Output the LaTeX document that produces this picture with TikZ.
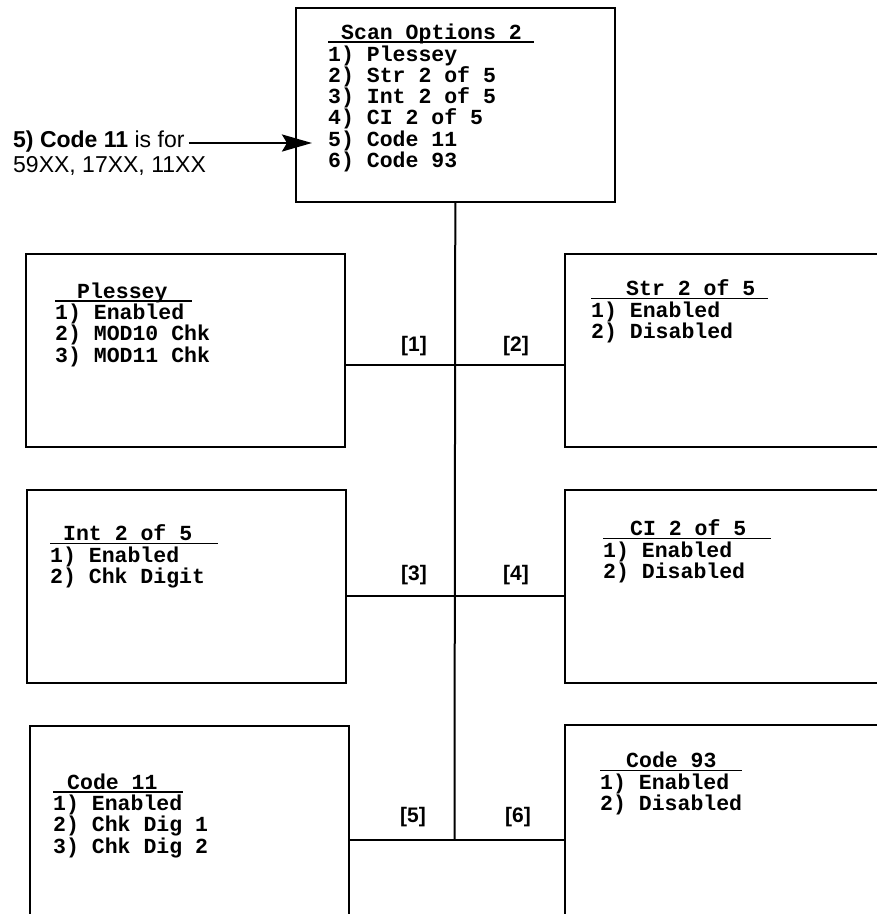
\documentclass[tikz,border=0pt]{standalone}
\usepackage{fontspec}
\setmainfont{Liberation Sans}
\newfontfamily\scanfont{Liberation Mono}
\usepackage{tikz}
\usetikzlibrary{positioning,arrows.meta,calc}
\newcommand{\boxtitle}[3]{\rlap{\rule[-3.5pt]{#1pt}{1.8pt}}\hspace*{#2pt}#3}

\begin{document}
\begin{tikzpicture}[x=1pt,y=-1pt,
    menubox/.style={draw,line width=1.6pt,minimum width=319pt,minimum height=193pt,anchor=north west,inner sep=0pt},
    menutext/.style={anchor=base west,align=left,inner sep=0pt,font=\scanfont\bfseries\fontsize{21.5}{21.3}\selectfont},
    tag/.style={font=\bfseries\fontsize{21}{21}\selectfont},
    note/.style={anchor=base west,inner sep=0pt,font=\fontsize{23}{25}\selectfont},
    link/.style={line width=2.6pt},
    trunk/.style={line width=2pt}]
  \useasboundingbox (0,0) rectangle (877,914);
  \clip (0,0) rectangle (877,914);
  \node[menubox,minimum height=194pt] (scan) at (295,7) {};
  \node[menubox] (plessey) at (25,253) {};
  \node[menubox] (str) at (564,253) {};
  \node[menubox] (int) at (26,489) {};
  \node[menubox] (ci) at (564,489) {};
  \node[menubox] (code11) at (29,725) {};
  \node[menubox] (code93) at (564,724) {};
  % lists are placed by the baseline of their last line
  \node[menutext] (scanlist) at (328,167.5) {\boxtitle{206}{13}{Scan Options 2}\\1) Plessey\\2) Str 2 of 5\\3) Int 2 of 5\\4) CI 2 of 5\\5) Code 11\\6) Code 93};
  \node[menutext] (plesseylist) at (55,362) {\boxtitle{137}{22}{Plessey}\\1) Enabled\\2) MOD10 Chk\\3) MOD11 Chk};
  \node[menutext] (strlist) at (591,338.5) {\boxtitle{177}{35}{Str 2 of 5}\\1) Enabled\\2) Disabled};
  \node[menutext] (intlist) at (50,583.5) {\boxtitle{168}{13}{Int 2 of 5}\\1) Enabled\\2) Chk Digit};
  \node[menutext] (cilist) at (603,578.5) {\boxtitle{168}{27}{CI 2 of 5}\\1) Enabled\\2) Disabled};
  \node[menutext] (code11list) at (53,853) {\boxtitle{130}{14}{Code 11}\\1) Enabled\\2) Chk Dig 1\\3) Chk Dig 2};
  \node[menutext] (code93list) at (600,810.5) {\boxtitle{142}{26}{Code 93}\\1) Enabled\\2) Disabled};
  \coordinate (j1) at (454.5,365);
  \coordinate (j2) at (454.5,596);
  \coordinate (j3) at (454.5,840);
  \draw[trunk] (scan.south) -- (j3);
  \draw[link] (plessey.east |- j1) -- (str.west |- j1);
  \draw[link] (int.east |- j2) -- (ci.west |- j2);
  \draw[link] (code11.east |- j3) -- (code93.west |- j3);
  \node[tag] (t1) at (414,346) {[1]};
  \node[tag] (t2) at (516,346) {[2]};
  \node[tag] (t3) at (414,575) {[3]};
  \node[tag] (t4) at (516,575) {[4]};
  \node[tag] (t5) at (413,817) {[5]};
  \node[tag] (t6) at (518,817) {[6]};
  \node[note] (note1) at (13,147) {\textbf{5) Code 11} is for};
  \node[note] (note2) at (13,172) {59XX, 17XX, 11XX};
  \coordinate (tip) at (312,143);
  \draw[-{Stealth[length=30pt,width=17pt,inset=5pt]},line width=2.6pt] ([xshift=4pt,yshift=4pt]note1.base east) -- (tip);
\end{tikzpicture}
\end{document}
